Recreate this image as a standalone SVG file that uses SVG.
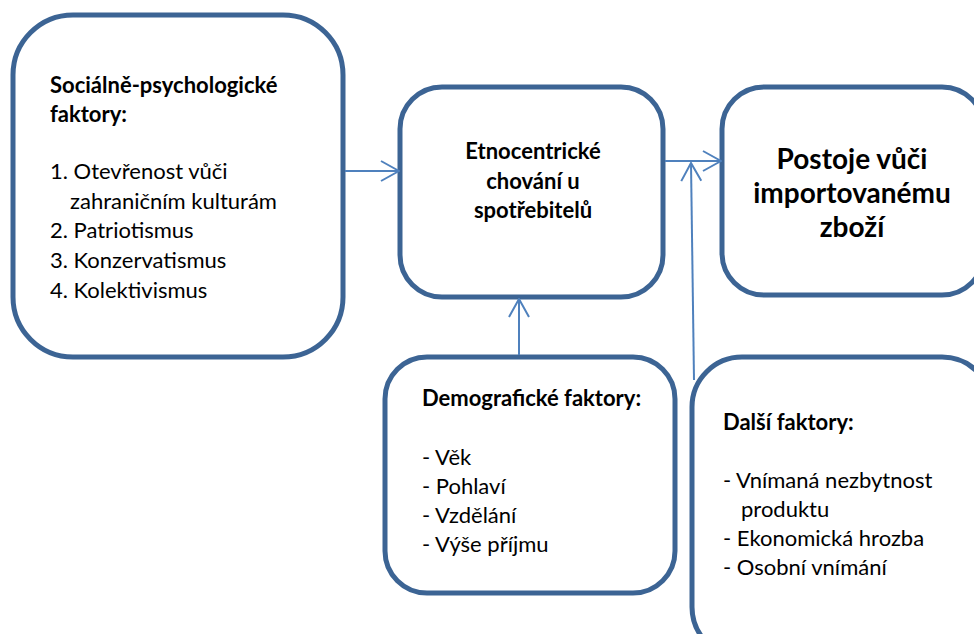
<svg xmlns="http://www.w3.org/2000/svg" width="974" height="634" viewBox="0 0 974 634">
<style>
.box{fill:#fff;stroke:#3C6494;stroke-width:5}
.con{stroke:#4F81BD;stroke-width:2;fill:none}
text{font-family:Lato,"Liberation Sans",sans-serif;font-size:22px;fill:#000}
.b{font-weight:bold}
.big{font-weight:bold;font-size:28px}
</style>
<defs>
<marker id="ah" viewBox="0 0 20 24" refX="19" refY="12" markerWidth="20" markerHeight="24" markerUnits="userSpaceOnUse" orient="auto">
<path d="M1,2 L19,12 L1,22" fill="none" stroke="#4F81BD" stroke-width="2"/>
</marker>
</defs>
<g id="n1"><rect class="box" x="13" y="15" width="330" height="342" rx="60"/>
<text class="b" x="50" y="93">Sociálně-psychologické</text>
<text class="b" x="50" y="122">faktory:</text>
<text x="50" y="179">1. Otevřenost vůči</text>
<text x="70" y="209">zahraničním kulturám</text>
<text x="50" y="238">2. Patriotismus</text>
<text x="50" y="268">3. Konzervatismus</text>
<text x="50" y="298">4. Kolektivismus</text>
</g>
<g id="n2"><rect class="box" x="400" y="87" width="263" height="210" rx="42"/>
<text class="b" text-anchor="middle" x="533" y="159">Etnocentrické</text>
<text class="b" text-anchor="middle" x="533" y="189">chování u</text>
<text class="b" text-anchor="middle" x="533" y="218">spotřebitelů</text>
</g>
<g id="n3"><rect class="box" x="722" y="87" width="262" height="208" rx="42"/>
<text class="big" text-anchor="middle" x="852" y="169">Postoje vůči</text>
<text class="big" text-anchor="middle" x="852" y="203">importovanému</text>
<text class="big" text-anchor="middle" x="852" y="237">zboží</text>
</g>
<g id="n4"><rect class="box" x="385" y="357" width="290" height="236" rx="42"/>
<text class="b" x="422" y="406">Demografické faktory:</text>
<text x="422" y="465">- Věk</text>
<text x="422" y="494">- Pohlaví</text>
<text x="422" y="523">- Vzdělání</text>
<text x="422" y="552">- Výše příjmu</text>
</g>
<g id="n5"><rect class="box" x="692" y="357" width="300" height="300" rx="50"/>
<text class="b" x="723" y="430">Další faktory:</text>
<text x="723" y="488">- Vnímaná nezbytnost</text>
<text x="741" y="517">produktu</text>
<text x="723" y="546">- Ekonomická hrozba</text>
<text x="723" y="575">- Osobní vnímání</text>
</g>
<g id="connectors">
<line class="con" x1="345" y1="171" x2="399" y2="171" marker-end="url(#ah)"/>
<line class="con" x1="665" y1="161" x2="721" y2="161" marker-end="url(#ah)"/>
<line class="con" x1="519" y1="355" x2="519" y2="299" marker-end="url(#ah)"/>
<line class="con" x1="694" y1="380" x2="691" y2="163" marker-end="url(#ah)"/>
</g>
</svg>
